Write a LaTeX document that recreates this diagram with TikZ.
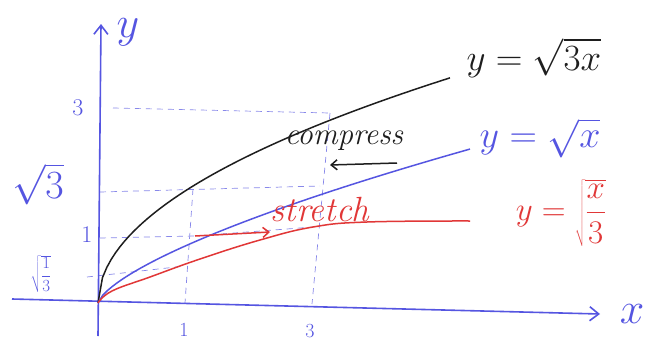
\RequirePackage{fix-cm}
\documentclass[tikz,border=0pt]{standalone}
\usetikzlibrary{arrows.meta}
\definecolor{axblue}{RGB}{85,85,225}
\definecolor{penred}{RGB}{225,55,55}
\definecolor{penblack}{RGB}{30,30,30}
\begin{document}
\begin{tikzpicture}[x=1pt,y=-1pt,
  axis/.style={axblue,line width=1.6pt,-{Straight Barb[length=9pt,width=14pt]}},
  guide/.style={axblue!70,line width=0.7pt,dash pattern=on 6pt off 5pt},
  curve/.style={line width=1.5pt},
  lab/.style={inner sep=0pt,font=\fontsize{#1}{#1}\selectfont},
  lab/.default=30]
\useasboundingbox[fill=white] (0,0) rectangle (648,340);
% key points
\coordinate (O) at (98,303);
\coordinate (xl) at (12,299);
\coordinate (xr) at (600,314);
\coordinate (yb) at (98,336);
\coordinate (yt) at (101,24);
\coordinate (B3) at (330,113);
\coordinate (Bs) at (193,189);
\coordinate (U1) at (195,236);
\coordinate (Us) at (320,186);
\coordinate (R1) at (313,227);
\coordinate (Rq) at (185,266);
\coordinate (X1) at (185,303);
\coordinate (X3) at (312,304);
\coordinate (Y3) at (113,108);
\coordinate (Ys) at (100,192);
\coordinate (Y1) at (100,238);
\coordinate (Yq) at (87,277);
% guides
\draw[guide] (Y3) -- (B3);
\draw[guide] (Ys) -- (Us);
\draw[guide] (Y1) -- (U1) -- (R1);
\draw[guide] (Yq) -- (Rq);
\draw[guide] (Bs) -- (X1);
\draw[guide] (B3) -- (X3);
% axes
\draw[axis] (xl) -- (xr);
\draw[axis] (yb) -- (yt);
\node[lab=44,axblue] (ylab) at (128,32) {$y$};
\node[lab=44,axblue] (xlab) at (632,314) {$x$};
% curves
\draw[curve,penblack] plot[domain=0:352,samples=80] ({98+\x},{303-12*sqrt(\x)});
\draw[curve,axblue] plot[domain=0.01:372,samples=80] ({98+\x},{303-40*pow(\x/52,0.685)});
\draw[curve,penred] plot[smooth,tension=0.7] coordinates {(98,303) (112,291) (150,277) (200,259) (260,240) (313,227) (367,222) (470,221)};
% curve labels
\node[lab=37,penblack] (lb) at (534,58) {$y=\sqrt{3x}$};
\node[lab=38,axblue] (lu) at (540,138) {$y=\sqrt{x}$};
\node[lab=33,penred] (lr) at (561,213) {$y=\sqrt{\displaystyle\frac{x}{3}}$};
% tick labels
\node[lab=24,axblue] (t3) at (78,108) {$3$};
\node[lab=40,axblue] (ts) at (38,184) {$\sqrt{3}$};
\node[lab=24,axblue] (t1) at (87,235) {$1$};
\node[lab=17,axblue] (tq) at (41,274) {$\sqrt{\displaystyle\frac{1}{3}}$};
\node[lab=20,axblue] (x1) at (184,330) {$1$};
\node[lab=20,axblue] (x3) at (310,331) {$3$};
% annotations
\node[lab=31,penblack] (comp) at (344,141) {\itshape compress};
\coordinate (ca) at (397,163);
\coordinate (cb) at (330,165);
\draw[penblack,line width=1.5pt,-{Straight Barb[length=6pt,width=10pt]}] (ca) -- (cb);
\node[lab=35,penred] (str) at (320,210) {\itshape stretch};
\coordinate (sa) at (270,232);
\draw[penred,line width=1.5pt,-{Straight Barb[length=6pt,width=10pt]}] (U1) -- (sa);
\end{tikzpicture}
\end{document}
